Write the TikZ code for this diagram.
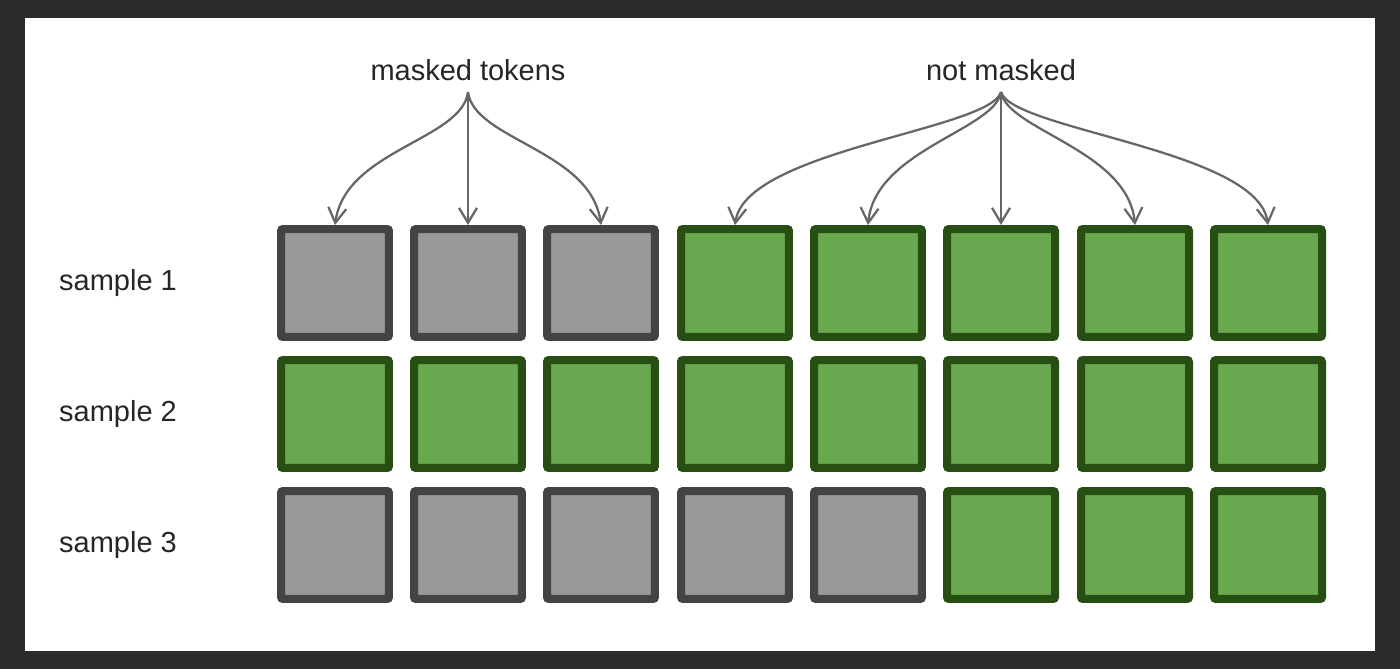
\documentclass[tikz,border=0pt]{standalone}
\usepackage{fontspec}
\setmainfont{Liberation Sans}
\usetikzlibrary{arrows.meta}
\definecolor{bg}{HTML}{2B2B2E}
\definecolor{gfill}{HTML}{999999}
\definecolor{gline}{HTML}{434343}
\definecolor{nfill}{HTML}{6AA84F}
\definecolor{nline}{HTML}{274E13}
\definecolor{arr}{HTML}{666666}
\begin{document}
\begin{tikzpicture}[x=0.02cm,y=-0.02cm,
  sq/.style={draw,line width=0.16cm,minimum size=2.16cm,inner sep=0,rounded corners=0.04cm},
  m/.style={sq,fill=gfill,draw=gline},
  n/.style={sq,fill=nfill,draw=nline},
  lab/.style={font=\fontsize{16.5}{18}\selectfont,text=black!85},
  ar/.style={draw=arr,line width=0.045cm,-{Straight Barb[length=0.3cm,width=0.36cm]}}]
\fill[bg] (0,0) rectangle (1400,669);
\fill[white] (25,18) rectangle (1375,651);
\useasboundingbox (0,0) rectangle (1400,669);
\def\xs{{335,468,601,735,868,1001,1135,1268}}
\foreach \r/\y/\k in {1/283/3,2/414/0,3/545/5}{
  \foreach \c in {1,...,8}{
    \pgfmathsetmacro\xx{\xs[\c-1]}
    \ifnum\c>\k \node[n] (s\r-\c) at (\xx,\y) {};
    \else \node[m] (s\r-\c) at (\xx,\y) {}; \fi
  }
  \node[lab,anchor=west] (l\r) at (53,\y) {sample \r};
}
\node[lab] (mt) at (468,70) {masked tokens};
\node[lab] (nm) at (1001,70) {not masked};
\coordinate (mo) at (468,92);
\coordinate (no) at (1001,92);
\draw[ar] (mo) .. controls (462,140) and (345,150) .. (s1-1.north);
\draw[ar] (mo) -- (s1-2.north);
\draw[ar] (mo) .. controls (474,140) and (591,150) .. (s1-3.north);
\draw[ar] (no) .. controls (990,130) and (745,150) .. (s1-4.north);
\draw[ar] (no) .. controls (995,130) and (875,150) .. (s1-5.north);
\draw[ar] (no) -- (s1-6.north);
\draw[ar] (no) .. controls (1007,130) and (1128,150) .. (s1-7.north);
\draw[ar] (no) .. controls (1012,130) and (1258,150) .. (s1-8.north);
\end{tikzpicture}
\end{document}
